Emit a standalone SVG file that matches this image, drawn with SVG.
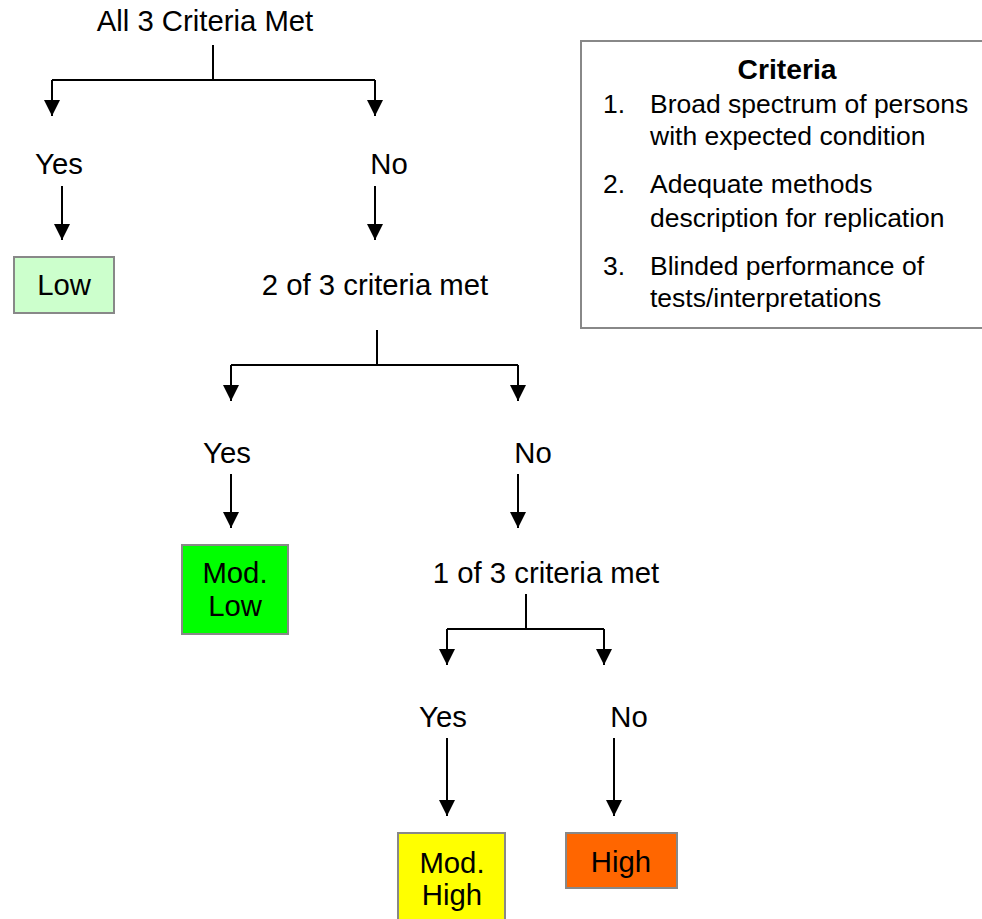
<svg xmlns="http://www.w3.org/2000/svg" width="982" height="919" viewBox="0 0 982 919">
<style>
text{font-family:"Liberation Sans",Arial,sans-serif;font-size:29.3px;fill:#000}
.c{text-anchor:middle}
.l{font-size:26.5px}
.b{font-weight:bold;font-size:28.3px}
.e{fill:none;stroke:#000;stroke-width:2}
.a{fill:none;stroke:#000;stroke-width:2;marker-end:url(#ah)}
.box{stroke:#888;stroke-width:2}
</style>
<defs>
<marker id="ah" viewBox="0 0 16 16" refX="16" refY="8" markerWidth="16" markerHeight="16" markerUnits="userSpaceOnUse" orient="auto">
<path d="M0,0 L16,8 L0,16 Z" fill="#000"/>
</marker>
</defs>
<rect width="982" height="919" fill="#fff"/>
<g id="connectors">
<path class="e" d="M213,45 V80 M52,80 H375"/>
<path class="a" d="M52,80 V116"/>
<path class="a" d="M375,80 V116"/>
<path class="a" d="M62,186 V240"/>
<path class="a" d="M375,186 V240"/>
<path class="e" d="M377,330 V365 M231,365 H518"/>
<path class="a" d="M231,365 V401"/>
<path class="a" d="M518,365 V401"/>
<path class="a" d="M231,474 V528"/>
<path class="a" d="M518,474 V528"/>
<path class="e" d="M526,594 V629 M447,629 H604"/>
<path class="a" d="M447,629 V665"/>
<path class="a" d="M604,629 V665"/>
<path class="a" d="M447,738 V816"/>
<path class="a" d="M614,738 V816"/>
</g>
<g id="n-all3"><text class="c" x="205" y="31">All 3 Criteria Met</text></g>
<g id="n-yes1"><text class="c" x="59" y="174">Yes</text></g>
<g id="n-no1"><text class="c" x="389" y="174">No</text></g>
<g id="n-low"><rect class="box" x="14" y="257" width="100" height="56" fill="#ccffcc"/><text class="c" x="64" y="295">Low</text></g>
<g id="n-2of3"><text class="c" x="375" y="295">2 of 3 criteria met</text></g>
<g id="n-yes2"><text class="c" x="227" y="463">Yes</text></g>
<g id="n-no2"><text class="c" x="533" y="463">No</text></g>
<g id="n-modlow"><rect class="box" x="182" y="545" width="106" height="89" fill="#00ff00"/><text class="c" x="235" y="583">Mod.</text><text class="c" x="235" y="616">Low</text></g>
<g id="n-1of3"><text class="c" x="546" y="583">1 of 3 criteria met</text></g>
<g id="n-yes3"><text class="c" x="443" y="727">Yes</text></g>
<g id="n-no3"><text class="c" x="629" y="727">No</text></g>
<g id="n-modhigh"><rect class="box" x="398" y="833" width="107" height="90" fill="#ffff00"/><text class="c" x="452" y="873">Mod.</text><text class="c" x="452" y="905">High</text></g>
<g id="n-high"><rect class="box" x="566" y="833" width="111" height="55" fill="#ff6600"/><text class="c" x="621" y="872">High</text></g>
<g id="n-criteria">
<rect x="581" y="41" width="410" height="287" fill="#fff" stroke="#888" stroke-width="2"/>
<text class="b c" x="787" y="79">Criteria</text>
<text class="l" x="603" y="113">1.</text><text class="l" x="650" y="113">Broad spectrum of persons</text>
<text class="l" x="650" y="145">with expected condition</text>
<text class="l" x="603" y="193">2.</text><text class="l" x="650" y="193">Adequate methods</text>
<text class="l" x="650" y="227">description for replication</text>
<text class="l" x="603" y="275">3.</text><text class="l" x="650" y="275">Blinded performance of</text>
<text class="l" x="650" y="307">tests/interpretations</text>
</g>
</svg>
